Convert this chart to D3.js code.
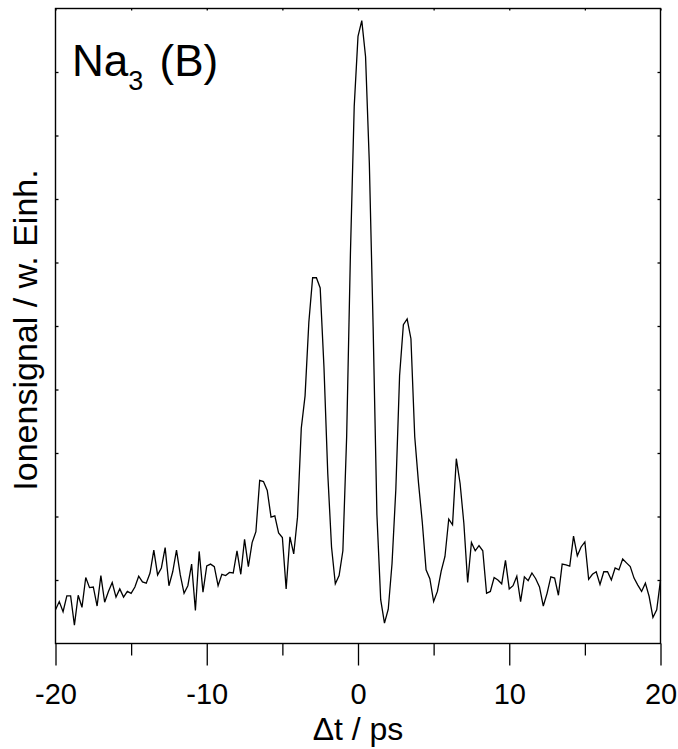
<!DOCTYPE html>
<html>
<head>
<meta charset="utf-8">
<script src="https://cdn.jsdelivr.net/npm/d3@7"></script>
<style>
  body { margin: 0; background: #fff; }
  svg text { font-family: "Liberation Sans", Arial, sans-serif; fill: #000; }
</style>
</head>
<body>
<div id="chart"></div>
<script>
// pump-probe delay in ps
const delay = [
  -20, -19.75, -19.5, -19.25, -19, -18.75, -18.5, -18.25,
  -18, -17.75, -17.5, -17.25, -17, -16.75, -16.5, -16.25,
  -16, -15.75, -15.5, -15.25, -15, -14.75, -14.5, -14.25,
  -14, -13.75, -13.5, -13.25, -13, -12.75, -12.5, -12.25,
  -12, -11.75, -11.5, -11.25, -11, -10.75, -10.5, -10.25,
  -10, -9.75, -9.5, -9.25, -9, -8.75, -8.5, -8.25,
  -8, -7.75, -7.5, -7.25, -7, -6.75, -6.5, -6.25,
  -6, -5.75, -5.5, -5.25, -5, -4.75, -4.5, -4.25,
  -4, -3.75, -3.5, -3.25, -3, -2.75, -2.5, -2.25,
  -2, -1.75, -1.5, -1.25, -1, -0.75, -0.5, -0.25,
  0, 0.25, 0.5, 0.75, 1, 1.25, 1.5, 1.75,
  2, 2.25, 2.5, 2.75, 3, 3.25, 3.5, 3.75,
  4, 4.25, 4.5, 4.75, 5, 5.25, 5.5, 5.75,
  6, 6.25, 6.5, 6.75, 7, 7.25, 7.5, 7.75,
  8, 8.25, 8.5, 8.75, 9, 9.25, 9.5, 9.75,
  10, 10.25, 10.5, 10.75, 11, 11.25, 11.5, 11.75,
  12, 12.25, 12.5, 12.75, 13, 13.25, 13.5, 13.75,
  14, 14.25, 14.5, 14.75, 15, 15.25, 15.5, 15.75,
  16, 16.25, 16.5, 16.75, 17, 17.25, 17.5, 17.75,
  18, 18.25, 18.5, 18.75, 19, 19.25, 19.5, 19.75,
  20
]

// ion signal, arbitrary units
const signal = [
  0.53, 0.66, 0.50, 0.75, 0.75, 0.29, 0.76, 0.57,
  1.04, 0.88, 0.89, 0.59, 1.07, 0.65, 0.82, 0.96,
  0.73, 0.86, 0.73, 0.82, 0.79, 0.89, 1.06, 0.97,
  0.95, 1.11, 1.47, 1.08, 1.19, 1.51, 0.91, 1.13,
  1.47, 1.08, 0.79, 0.91, 1.25, 0.52, 1.45, 0.81,
  1.22, 1.25, 1.21, 0.91, 1.09, 1.07, 1.12, 1.11,
  1.46, 1.09, 1.64, 1.21, 1.59, 1.76, 2.57, 2.55,
  2.41, 1.99, 2.01, 1.74, 1.67, 0.86, 1.68, 1.41,
  1.99, 3.39, 3.90, 5.06, 5.76, 5.76, 5.60, 4.35,
  2.68, 1.52, 0.94, 1.07, 1.46, 3.26, 6.15, 8.46,
  9.56, 9.81, 9.24, 7.56, 4.99, 2.03, 0.69, 0.32,
  0.54, 1.26, 2.42, 4.22, 5.02, 5.11, 4.80, 3.26,
  2.53, 1.91, 1.16, 1.02, 0.66, 0.82, 1.14, 1.37,
  1.96, 1.87, 2.91, 2.52, 1.89, 0.96, 1.59, 1.46,
  1.54, 1.46, 0.79, 0.82, 1.04, 1.00, 0.94, 1.31,
  0.86, 0.91, 1.06, 0.66, 1.05, 0.99, 1.11, 1.02,
  0.89, 0.59, 0.79, 1.05, 1.03, 0.76, 1.25, 1.24,
  1.22, 1.69, 1.38, 1.52, 1.60, 1.01, 1.09, 1.13,
  0.93, 1.13, 1.13, 1.00, 1.19, 1.16, 1.33, 1.27,
  1.21, 1.03, 0.92, 0.82, 0.95, 0.74, 0.41, 0.53,
  1.00
]

const major_ticks = [-20, -10, 0, 10, 20]
const minor_ticks = [-15, -5, 5, 15]
const y_ticks = [1, 2, 3, 4, 5, 6, 7, 8, 9]

const x_title = "\u0394t / ps"
const y_title = "Ionensignal / w. Einh."

const W = 678, H = 749
const margin = {top: 8.5, right: 17.5, bottom: 105.5, left: 55.5}
const width = W - margin.left - margin.right,
      height = H - margin.top - margin.bottom

const svg = d3.select("#chart").append("svg")
    .attr("width", W)
    .attr("height", H)

const g = svg.append("g")
    .attr("transform", "translate(" + margin.left + "," + margin.top + ")")

const x = d3.scaleLinear().domain([-20, 20]).range([0, width])
const y = d3.scaleLinear().domain([0, 10]).range([height, 0])

const data = delay.map((t, i) => ({t: t, v: signal[i]}))

// bottom axis, long ticks with labels (plain hyphen as minus sign)
g.append("g")
    .attr("class", "axis")
    .attr("transform", "translate(0," + height + ")")
    .call(d3.axisBottom(x)
        .tickValues(major_ticks)
        .tickSizeInner(22)
        .tickSizeOuter(0)
        .tickPadding(18)
        .tickFormat(d => String(d))
    )
// bottom axis, short unlabelled ticks
g.append("g")
    .attr("class", "axis")
    .attr("transform", "translate(0," + height + ")")
    .call(d3.axisBottom(x)
        .tickValues(minor_ticks)
        .tickSizeInner(12)
        .tickSizeOuter(0)
        .tickFormat("")
    )
// top axis, tiny inward ticks
g.append("g")
    .attr("class", "axis")
    .call(d3.axisBottom(x)
        .tickValues(major_ticks.concat(minor_ticks))
        .tickSizeInner(2)
        .tickSizeOuter(0)
        .tickFormat("")
    )
// left and right, inward ticks
g.append("g")
    .attr("class", "axis")
    .call(d3.axisRight(y)
        .tickValues(y_ticks)
        .tickSizeInner(3)
        .tickSizeOuter(0)
        .tickFormat("")
    )
g.append("g")
    .attr("class", "axis")
    .attr("transform", "translate(" + width + ",0)")
    .call(d3.axisLeft(y)
        .tickValues(y_ticks)
        .tickSizeInner(3)
        .tickSizeOuter(0)
        .tickFormat("")
    )

g.selectAll(".axis .domain").remove()
g.selectAll(".axis line").attr("stroke", "#000").attr("stroke-width", 1.3)
g.selectAll(".axis text")
    .attr("font-size", 29)
    .attr("fill", "#000")
    .style("font-family", "'Liberation Sans', Arial, sans-serif")

// frame
g.append("rect")
    .attr("x", 0)
    .attr("y", 0)
    .attr("width", width)
    .attr("height", height)
    .attr("fill", "none")
    .attr("stroke", "#000")
    .attr("stroke-width", 1.4)

// the trace
g.append("path")
    .datum(data)
    .attr("fill", "none")
    .attr("stroke", "#000")
    .attr("stroke-width", 1.3)
    .attr("stroke-linejoin", "miter")
    .attr("d", d3.line()
        .x(d => x(d.t))
        .y(d => y(d.v))
    )

// axis titles
svg.append("text")
    .attr("x", margin.left + x(0))
    .attr("y", 740)
    .attr("text-anchor", "middle")
    .attr("font-size", 32)
    .text(x_title)

svg.append("text")
    .attr("transform", "translate(37,330) rotate(-90)")
    .attr("text-anchor", "middle")
    .attr("font-size", 34)
    .text(y_title)

// molecule label
const lbl = svg.append("text")
    .attr("x", 72)
    .attr("y", 76)
    .attr("font-size", 44)
lbl.append("tspan").text("Na")
lbl.append("tspan").attr("font-size", 27).attr("dy", 14).text("3")
lbl.append("tspan").attr("dy", -14).attr("dx", 4).text(" (B)")
</script>
</body>
</html>
